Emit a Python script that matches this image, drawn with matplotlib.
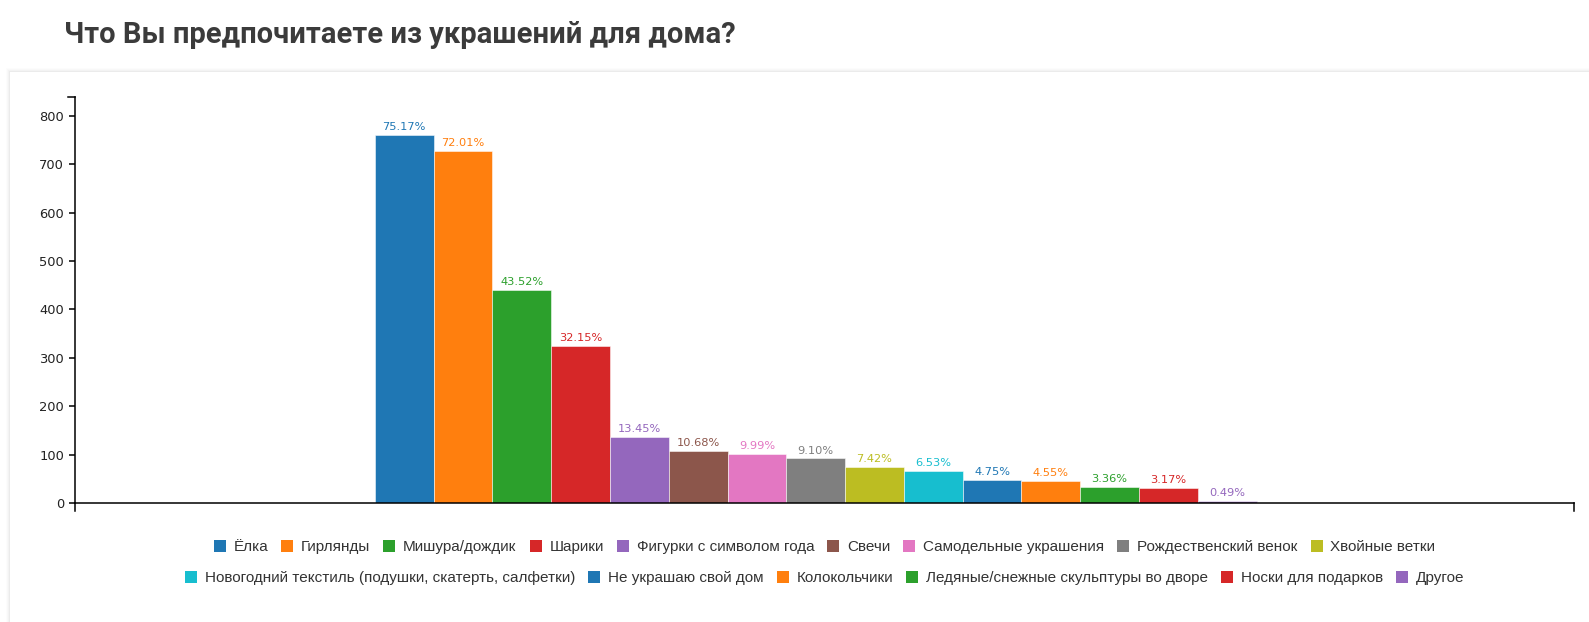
import matplotlib.pyplot as plt
from matplotlib.lines import Line2D
from matplotlib.patches import Rectangle

title = "Что Вы предпочитаете из украшений для дома?"
categories = ["Ёлка", "Гирлянды", "Мишура/дождик", "Шарики", "Фигурки с символом года",
              "Свечи", "Самодельные украшения", "Рождественский венок", "Хвойные ветки",
              "Новогодний текстиль (подушки, скатерть, салфетки)", "Не украшаю свой дом",
              "Колокольчики", "Ледяные/снежные скульптуры во дворе", "Носки для подарков",
              "Другое"]
counts = [760, 728, 440, 325, 136, 108, 101, 92, 75, 66, 48, 46, 34, 32, 5]
percent_labels = ["75.17%", "72.01%", "43.52%", "32.15%", "13.45%", "10.68%", "9.99%",
                  "9.10%", "7.42%", "6.53%", "4.75%", "4.55%", "3.36%", "3.17%", "0.49%"]
colors = ["#1f77b4", "#ff7f0e", "#2ca02c", "#d62728", "#9467bd", "#8c564b", "#e377c2",
          "#7f7f7f", "#bcbd22", "#17becf", "#1f77b4", "#ff7f0e", "#2ca02c", "#d62728",
          "#9467bd"]
yticks = [0, 100, 200, 300, 400, 500, 600, 700, 800]

W, H = 1589, 622
fig = plt.figure(figsize=(W / 100, H / 100), dpi=100)
fig.patch.set_facecolor("white")

# card + soft shadow (behind the axes)
for k, a in [(4, 0.012), (3, 0.015), (2, 0.02), (1, 0.03)]:
    fig.add_artist(Rectangle(((10 - k) / W, -0.1), (W + 20) / W, (H - 72 + k) / H + 0.1,
                             transform=fig.transFigure, facecolor="black", alpha=a,
                             edgecolor="none", zorder=-3))
fig.add_artist(Rectangle((10 / W, -0.1), (W + 20) / W, (H - 72) / H + 0.1,
                         transform=fig.transFigure, facecolor="white",
                         edgecolor="none", zorder=-2))

fig.text(64 / W, 1 - 43 / H, title, ha="left", va="baseline", fontsize=21,
         fontweight="bold", family="Roboto", color="#3b3b3b")

ax_w, ax_h = 1499, 406
ax = fig.add_axes([75 / W, 1 - 503 / H, ax_w / W, ax_h / H])
ax.patch.set_alpha(0)

x = list(range(len(counts)))
ax.bar(x, counts, width=1, color=colors, edgecolor=(1, 1, 1, 0.6), linewidth=0.6)
for xi, v, lab, c in zip(x, counts, percent_labels, colors):
    ax.annotate(lab, (xi, v), xytext=(0, 2), textcoords="offset points",
                ha="center", va="bottom", color=c, fontsize=8.2)

ax.set_xlim(-5.6, 19.9)
ax.set_ylim(0, 839)
ax.set_xticks([])
ax.set_yticks(yticks)
ax.tick_params(axis="y", length=4.3, width=1.1, pad=3.6, labelsize=9.4, labelcolor="#222")
for s in ["top", "right"]:
    ax.spines[s].set_visible(False)
for s in ["left", "bottom"]:
    ax.spines[s].set_linewidth(1.1)

# outer ticks of the axis domains
ax.plot([0, 0], [0, -8 / ax_h], transform=ax.transAxes, clip_on=False, color="black", lw=1.1)
ax.plot([1, 1], [0, -8 / ax_h], transform=ax.transAxes, clip_on=False, color="black", lw=1.1)
ax.plot([-7 / ax_w, 0], [1, 1], transform=ax.transAxes, clip_on=False, color="black", lw=1.1)

handles = [Line2D([], [], marker="s", linestyle="", markersize=8.6, markerfacecolor=c,
                  markeredgewidth=0) for c in colors]
rows = [(0, 9, 547), (9, 15, 578)]
for a, b, yy in rows:
    fig.legend(handles[a:b], categories[a:b], ncol=b - a, loc="center",
               bbox_to_anchor=(824.5 / W, 1 - yy / H), frameon=False,
               prop=dict(family="Liberation Sans", size=11), handlelength=0.8,
               handletextpad=0.5, columnspacing=0.85, borderpad=0, labelcolor="#333")

fig.savefig("out.png", dpi=100)
